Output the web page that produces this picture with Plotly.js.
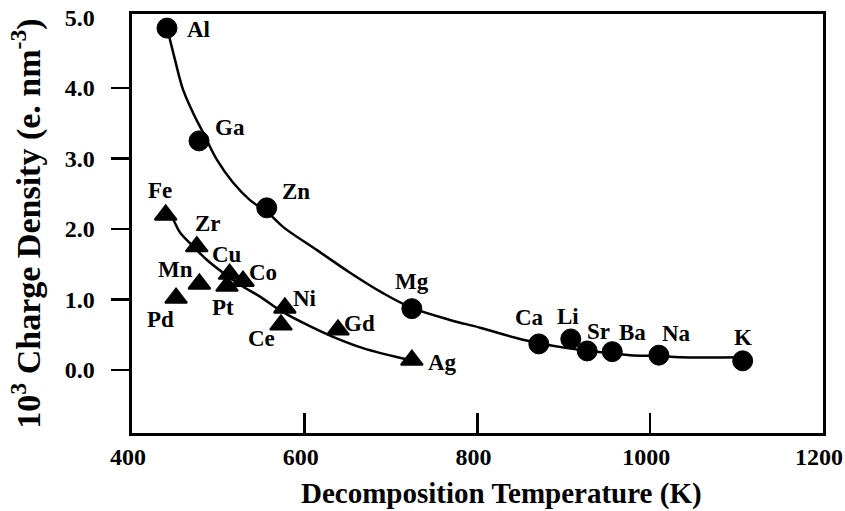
<!DOCTYPE html>
<html>
<head>
<meta charset="utf-8">
<script src="https://cdn.plot.ly/plotly-3.0.1.min.js"></script>
<style>html,body{margin:0;padding:0;background:#fff;}#chart{width:845px;height:511px;}</style>
</head>
<body>
<div id="chart"></div>
<script>
// Circles (upper series)
var circleNames = ['Al','Ga','Zn','Mg','Ca','Li','Sr','Ba','Na','K'];
var circleTemp  = [440.5, 477.6, 556, 724, 871, 908, 927, 956, 1010, 1107];
var circleDens  = [4.85, 3.25, 2.30, 0.87, 0.37, 0.44, 0.27, 0.26, 0.21, 0.13];

// Triangles (lower series)
var triNames = ['Fe','Zr','Cu','Co','Mn','Pt','Pd','Ni','Ce','Gd','Ag'];
var triTemp  = [439, 475, 513, 528.5, 478, 510, 451, 577, 572.5, 638.5, 724];
var triDens  = [2.20, 1.75, 1.36, 1.26, 1.22, 1.19, 1.02, 0.88, 0.64, 0.57, 0.14];

// Fitted curves
var circleFitTemp = [441.7, 449.8, 459.0, 470.6, 482.2, 498.4, 516.9, 536.6, 557.4, 574.8, 614.2, 652.4, 690.6, 724.2, 768.1, 802.9, 852.7, 903.6, 938.3, 976.5, 1010.1, 1034.4, 1107.4];
var circleFitDens = [4.80, 4.40, 3.98, 3.65, 3.37, 2.98, 2.66, 2.41, 2.23, 2.03, 1.70, 1.38, 1.09, 0.88, 0.71, 0.60, 0.43, 0.31, 0.26, 0.21, 0.20, 0.18, 0.18];
var triFitTemp = [440, 446.3, 455.6, 472.9, 486.8, 505.4, 525.0, 548.2, 574.8, 609.5, 632.7, 667.4, 721.8];
var triFitDens = [2.22, 2.16, 1.95, 1.73, 1.56, 1.38, 1.21, 1.04, 0.82, 0.60, 0.47, 0.31, 0.14];

var yTickMarks = [0, 1, 2, 3, 4];
var yLabelVals = [0, 1, 2, 3, 4, 5];
var yLabelText = ['0.0', '1.0', '2.0', '3.0', '4.0', '5.0'];
var xTickVals = [400, 600, 800, 1000, 1200];
var xTickText = ['400', '600', '800', '1000', '1200'];

// label offsets in screen pixels (dx right, dy down)
var circleLabelDx = [32, 31, 29, 0, -9, -3, 11, 20, 18, 0];
var circleLabelDy = [1, -13, -16, -27, -26, -22, -19, -19, -22, -23];
var triLabelDx = [-6, 11, -3, 20, -24, -4, -16, 20, -19, 22, 31];
var triLabelDy = [-24, -23, -20, -9, -14, 21, 21, -9, 14, -6, 2];

var FONT = '"Liberation Serif", "Times New Roman", serif';
var Y_RANGE = [-0.894, 5.05];

var traces = [
  {x: circleFitTemp, y: circleFitDens, mode: 'lines', line: {color: '#000', width: 2.5, shape: 'spline', smoothing: 1}, hoverinfo: 'skip', showlegend: false},
  {x: triFitTemp, y: triFitDens, mode: 'lines', line: {color: '#000', width: 2.5, shape: 'spline', smoothing: 1}, hoverinfo: 'skip', showlegend: false},
  {x: circleTemp, y: circleDens, mode: 'markers', marker: {symbol: 'circle', size: 20, color: '#000', line: {color: '#000', width: 1}}, text: circleNames, showlegend: false},
  {x: triTemp, y: triDens, yaxis: 'y2', mode: 'markers', marker: {symbol: 'triangle-up', size: 19, color: '#000', line: {color: '#000', width: 2}}, text: triNames, showlegend: false}
];

var annotations = [];
circleNames.forEach(function(n, i){
  annotations.push({x: circleTemp[i], y: circleDens[i], xref: 'x', yref: 'y', text: '<b>' + n + '</b>', showarrow: false,
    xshift: circleLabelDx[i], yshift: -circleLabelDy[i], font: {family: FONT, size: 23, color: '#000'}});
});
triNames.forEach(function(n, i){
  annotations.push({x: triTemp[i], y: triDens[i], xref: 'x', yref: 'y', text: '<b>' + n + '</b>', showarrow: false,
    xshift: triLabelDx[i], yshift: -triLabelDy[i], font: {family: FONT, size: 23, color: '#000'}});
});
// x-axis title (sits right of centre in the original)
annotations.push({xref: 'x domain', x: 0.5, yref: 'paper', y: 0, xanchor: 'center', yanchor: 'middle', xshift: 24, yshift: -60,
  text: '<b>Decomposition Temperature (K)</b>', showarrow: false, font: {family: FONT, size: 29, color: '#000'}});

var layout = {
  width: 845, height: 511,
  margin: {l: 50, r: 22, t: 14, b: 78},
  paper_bgcolor: '#fff', plot_bgcolor: '#fff',
  font: {family: FONT, color: '#000'},
  showlegend: false,
  xaxis: {
    domain: [0.10608, 1],
    range: [400, 1200], tickvals: xTickVals,
    ticktext: xTickText.map(function(v){return '<b>' + v + '</b>';}),
    ticks: 'inside', ticklen: 20, tickwidth: 2.5, tickcolor: '#000',
    showline: true, linewidth: 3, linecolor: '#000', mirror: true,
    showgrid: false, zeroline: false, ticklabeloverflow: 'allow', ticklabelshift: -4,
    tickfont: {family: FONT, size: 24, color: '#000'}
  },
  yaxis: {
    range: Y_RANGE, tickvals: yTickMarks, showticklabels: false,
    ticks: 'outside', ticklen: 18, tickwidth: 2.5, tickcolor: '#000',
    showline: true, linewidth: 3, linecolor: '#000', mirror: true,
    showgrid: false, zeroline: false
  },
  yaxis2: {
    overlaying: 'y', anchor: 'free', side: 'left', position: 0.058,
    range: Y_RANGE, tickvals: yLabelVals,
    ticktext: yLabelText.map(function(v){return '<b>' + v + '</b>';}),
    ticks: '', showline: false, showgrid: false, zeroline: false, ticklabeloverflow: 'allow',
    tickfont: {family: FONT, size: 24, color: '#000'},
    title: {text: '<b>10<sup>3</sup> Charge Density (e. nm<sup>-3</sup>)</b>', font: {family: FONT, size: 34, color: '#000'}, standoff: 12}
  },
  annotations: annotations
};

Plotly.newPlot('chart', traces, layout, {staticPlot: true, displayModeBar: false});
</script>
</body>
</html>
